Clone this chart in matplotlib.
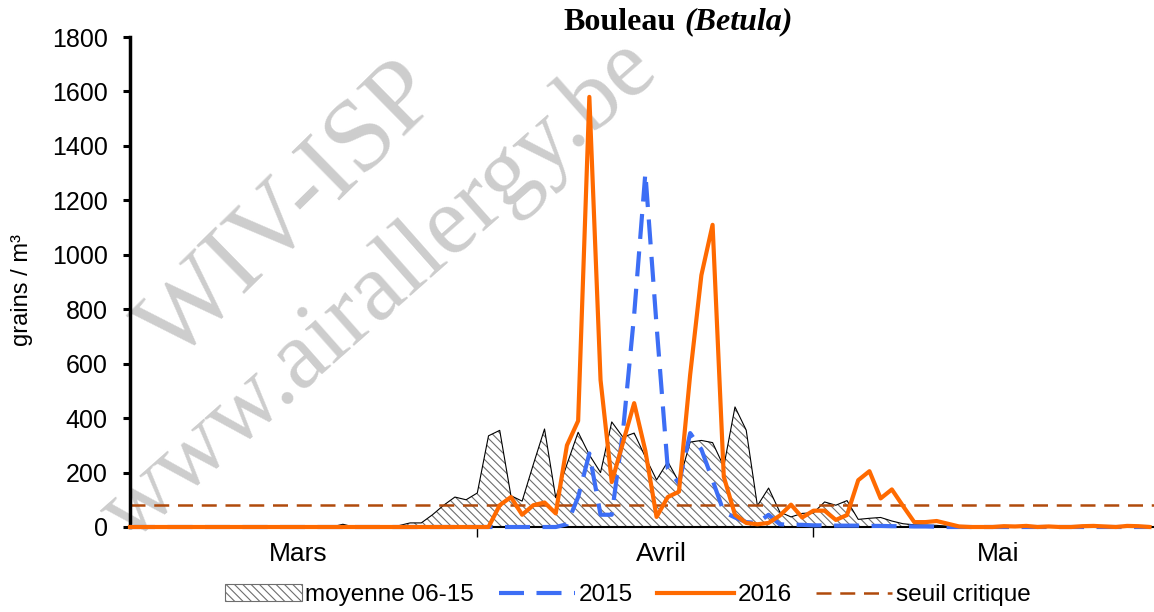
import numpy as np
import matplotlib.pyplot as plt
from matplotlib.lines import Line2D
from matplotlib.patches import Patch

plt.rcParams['font.family'] = ['Liberation Sans', 'DejaVu Sans']
plt.rcParams['hatch.linewidth'] = 0.8

# daily values, 1 March -> 31 May
mean_0615 = [0] * 19 + [10, 0, 0, 0, 0, 5, 15, 15, 45, 80, 110, 100, 125,
             335, 355, 115, 95, 230, 360, 108, 230, 348, 265, 200, 386, 330,
             345, 257, 173, 240, 165, 312, 318, 310, 222, 441, 356, 78, 143,
             55, 37, 50, 52, 92, 80, 97, 28, 32, 35, 22, 12, 8, 7, 6, 3] + [0] * 18
y2015 = [0] * 39 + [10, 110, 270, 45, 45, 350, 780, 1300, 740, 215, 160,
         345, 285, 172, 55, 35, 18, 15, 45, 10, 8, 8, 6, 6, 5, 5, 5, 4, 4,
         3, 3, 2, 2, 1, 0] + [0] * 18
y2016 = [0] * 33 + [80, 110, 45, 80, 90, 50, 300, 390, 1580, 540, 165, 310,
         455, 280, 37, 110, 130, 560, 925, 1110, 185, 45, 15, 10, 15, 42, 82,
         35, 60, 60, 26, 44, 172, 205, 105, 138, 77, 18, 18, 22, 12, 2,
         0, 0, 0, 3, 2, 4, 0, 2, 0, 0, 3, 4, 2, 0, 4, 3, 0]
seuil = 80
months = ['Mars', 'Avril', 'Mai']
month_pos = [15, 47.4, 77.5]
month_edges = [31, 61]
days = np.arange(len(mean_0615))

fig = plt.figure(figsize=(11.54, 6.12), dpi=100)
ax = fig.add_axes([130 / 1154, 1 - 527 / 612, 1024 / 1154, 490 / 612])

# watermark
ax.text(291 / 1154, 1 - 213 / 612, 'WIV-ISP', transform=fig.transFigure,
        fontsize=74, family='Liberation Serif', color='#cdcdcd', rotation=44.5,
        ha='center', va='center', rotation_mode='anchor', zorder=0.5)
ax.text(380 / 1154, 1 - 292 / 612, 'www.airallergy.be', transform=fig.transFigure,
        fontsize=70, family='Liberation Serif', color='#cdcdcd', rotation=41.5,
        ha='center', va='center', rotation_mode='anchor', zorder=0.5)

ax.fill_between(days, 0, mean_0615, facecolor='white', edgecolor='#6e6e6e',
                hatch='\\\\\\\\', linewidth=0, zorder=1)
ax.plot(days, mean_0615, color='black', lw=0.8, zorder=1.5)
ax.axhline(seuil, color='#b04a0c', lw=1.8, dashes=(6, 3.5), zorder=2)
ax.plot(days, y2015, color='#3d6ef5', lw=3, dashes=(6, 3), zorder=3, clip_on=False)
ax.plot(days, y2016, color='#ff6a00', lw=3, zorder=4, clip_on=False)

ax.set_xlim(0, 91.4)
ax.set_ylim(0, 1800)
ax.set_yticks(range(0, 1801, 200))
ax.tick_params(axis='y', labelsize=18, length=5, width=2.2, pad=11)
ax.set_xticks(month_edges)
ax.set_xticklabels([])
ax.tick_params(axis='x', length=7, width=1)
for p, m in zip(month_pos, months):
    ax.text(p, -100, m, fontsize=19, ha='center', va='center')

for s in ['top', 'right']:
    ax.spines[s].set_visible(False)
ax.spines['left'].set_linewidth(2.5)
ax.spines['bottom'].set_linewidth(1.5)

ax.set_ylabel('grains / m³', fontsize=17)
ax.yaxis.set_label_coords(-0.095, 0.484)

fig.text(676 / 1154, 1 - 22 / 612, 'Bouleau', fontsize=23, family='Liberation Serif',
         weight='bold', ha='right', va='center')
fig.text(684 / 1154, 1 - 22 / 612, '(Betula)', fontsize=23, family='Liberation Serif',
         weight='bold', style='italic', ha='left', va='center')

handles = [Patch(facecolor='white', edgecolor='#6e6e6e', hatch='\\\\\\\\', lw=0.8),
           Line2D([], [], color='#3d6ef5', lw=3, dashes=(6, 3)),
           Line2D([], [], color='#ff6a00', lw=3),
           Line2D([], [], color='#b04a0c', lw=1.8, dashes=(6, 3.5))]
labels = ['moyenne 06-15', '2015', '2016', 'seuil critique']
fig.legend(handles, labels, loc='center', bbox_to_anchor=(628 / 1154, 1 - 595 / 612),
           ncol=4, frameon=False, fontsize=17.5, handlelength=3.15,
           handletextpad=0.15, columnspacing=1.0)

fig.savefig('out.png', dpi=100)
